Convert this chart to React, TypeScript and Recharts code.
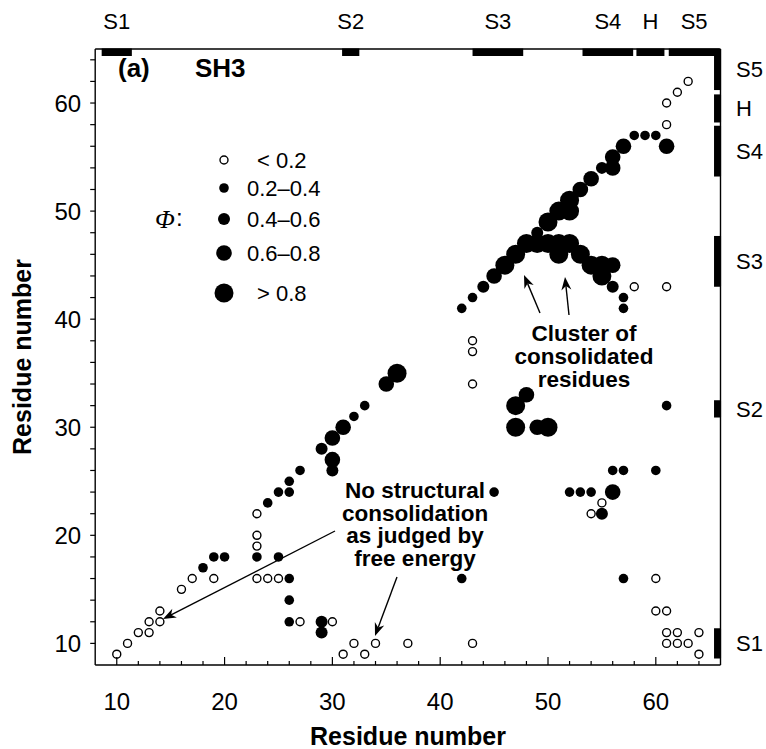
import React from 'react';
import { ScatterChart, Scatter, XAxis, YAxis, ReferenceLine, ReferenceArea, Customized } from 'recharts';

type P = { x: number; y: number };
const pts = (a: number[][]): P[] => a.map(([x, y]) => ({ x, y }));

// Phi-value classes (residue i, residue j)
const phiBelow02 = pts([
  [10, 9], [11, 10], [12, 11], [13, 11], [13, 12], [14, 12], [14, 13], [16, 15], [17, 16], [19, 16],
  [23, 22], [23, 20], [23, 19], [23, 16], [24, 16], [25, 16], [27, 12], [30, 12], [31, 9], [32, 10],
  [33, 9], [34, 10], [37, 10], [43, 10], [43, 34], [43, 37], [43, 38], [54, 22], [55, 23], [58, 43],
  [61, 43], [60, 16], [60, 13], [61, 13], [61, 11], [62, 11], [64, 11], [61, 10], [62, 10], [63, 10],
  [64, 9], [61, 58], [61, 60], [62, 61], [63, 62],
]);
const phi02to04 = pts([
  [18, 17], [19, 18], [20, 18], [23, 18], [25, 18], [26, 16], [26, 14], [26, 12], [24, 23], [25, 24],
  [26, 25], [26, 24], [27, 26], [32, 31], [33, 32], [42, 16], [45, 24], [42, 41], [43, 42], [52, 24],
  [53, 24], [54, 24], [56, 26], [57, 26], [60, 26], [57, 16], [61, 32], [57, 42], [57, 41], [58, 57],
  [59, 57], [60, 57],
]);
const phi04to06 = pts([
  [29, 28], [29, 11], [29, 12], [30, 26], [44, 43], [55, 54], [55, 22], [49, 48], [56, 43],
]);
const phi06to08 = pts([
  [30, 29], [31, 30], [30, 27], [35, 34], [48, 33], [49, 30], [56, 24], [61, 56], [57, 56], [56, 55],
  [56, 54], [54, 53], [53, 52], [45, 44], [56, 45],
]);
const phiAbove08 = pts([
  [36, 35], [47, 32], [47, 30], [50, 30], [46, 45], [47, 46], [48, 47], [49, 47], [50, 47], [51, 47],
  [52, 47], [51, 46], [53, 46], [54, 45], [55, 45], [55, 44], [50, 49], [51, 50], [52, 50], [52, 51],
]);

// Secondary structure elements (residue ranges)
const ssLabels = ['S1', 'S2', 'S3', 'S4', 'H', 'S5'];
const ssStart = [8.6, 30.9, 43.0, 53.2, 58.2, 61.2];
const ssEnd = [11.4, 32.5, 47.7, 57.9, 60.8, 65.9];

const xTicks = [10, 12, 14, 16, 18, 20, 22, 24, 26, 28, 30, 32, 34, 36, 38, 40, 42, 44, 46, 48, 50, 52, 54, 56, 58, 60, 62, 64];
const yTicks = [10, 12, 14, 16, 18, 20, 22, 24, 26, 28, 30, 32, 34, 36, 38, 40, 42, 44, 46, 48, 50, 52, 54, 56, 58, 60, 62, 64];

const FONT = '"Liberation Sans", Arial, Helvetica, sans-serif';
const R = [4, 4.8, 6, 7.8, 9.5];

const makeShape = (r: number, open: boolean) => (props: any) => (
  <circle cx={props.cx} cy={props.cy} r={r} fill={open ? '#fff' : '#000'} stroke="#000" strokeWidth={open ? 1.4 : 0} />
);

const XTick = (props: any) => {
  const { x, y, payload } = props;
  const v = payload.value;
  const major = v % 10 === 0;
  return (
    <g>
      <line x1={x} x2={x} y1={y} y2={y - (major ? 8 : 4)} stroke="#000" strokeWidth={1.2} />
      {major && (
        <text x={x} y={y + 36} textAnchor="middle" dominantBaseline="central" fontSize={24} fontFamily={FONT} fill="#000">
          {v}
        </text>
      )}
    </g>
  );
};

const YTick = (props: any) => {
  const { x, y, payload } = props;
  const v = payload.value;
  const major = v % 10 === 0;
  return (
    <g>
      <line x1={x} x2={x - 5} y1={y} y2={y} stroke="#000" strokeWidth={1.2} />
      {major && (
        <text x={x - 14} y={y} textAnchor="end" dominantBaseline="central" fontSize={24} fontFamily={FONT} fill="#000">
          {v}
        </text>
      )}
    </g>
  );
};

const Arrow = ({ x1, y1, x2, y2 }: { x1: number; y1: number; x2: number; y2: number }) => {
  const dx = x2 - x1;
  const dy = y2 - y1;
  const len = Math.sqrt(dx * dx + dy * dy);
  const ux = dx / len;
  const uy = dy / len;
  const hl = 13;
  const hw = 5;
  const bx = x2 - ux * hl;
  const by = y2 - uy * hl;
  const nx = x2 - ux * hl * 0.7;
  const ny = y2 - uy * hl * 0.7;
  return (
    <g>
      <line x1={x1} y1={y1} x2={nx} y2={ny} stroke="#000" strokeWidth={1.4} />
      <polygon
        points={`${x2},${y2} ${bx - uy * hw},${by + ux * hw} ${nx},${ny} ${bx + uy * hw},${by - ux * hw}`}
        fill="#000"
      />
    </g>
  );
};

const Annotations = () => {
  const bold = { fontFamily: FONT, fontWeight: 700, fill: '#000' } as any;
  const reg = { fontFamily: FONT, fill: '#000' } as any;
  const legendY = [160, 188, 219, 253, 293];
  const legendText = ['< 0.2', '0.2\u20130.4', '0.4\u20130.6', '0.6\u20130.8', '> 0.8'];
  const legendX = [257, 247, 247, 247, 257];
  const noteLines = ['No structural', 'consolidation', 'as judged by', 'free energy'];
  const clusterLines = ['Cluster of', 'consolidated', 'residues'];
  return (
    <g>
      <text x={118} y={68} fontSize={26} dominantBaseline="central" {...bold}>(a)</text>
      <text x={195} y={68} fontSize={26} dominantBaseline="central" {...bold}>SH3</text>
      <text x={155} y={219} fontSize={26} dominantBaseline="central" fontFamily='"Liberation Serif", serif' fontStyle="italic" fill="#000">
        {'\u03A6'}
      </text>
      <text x={176} y={217} fontSize={24} dominantBaseline="central" {...reg}>:</text>
      {legendY.map((ly, i) => (
        <g key={i}>
          <circle cx={224} cy={ly} r={R[i]} fill={i === 0 ? '#fff' : '#000'} stroke="#000" strokeWidth={i === 0 ? 1.4 : 0} />
          <text x={legendX[i]} y={ly} fontSize={22} dominantBaseline="central" {...reg}>{legendText[i]}</text>
        </g>
      ))}
      <text x={415} y={498} textAnchor="middle" fontSize={22.5} {...bold}>
        {noteLines.map((l, i) => (
          <tspan key={i} x={415} dy={i === 0 ? 0 : 22.7}>{l}</tspan>
        ))}
      </text>
      <text x={584} y={341} textAnchor="middle" fontSize={22.5} {...bold}>
        {clusterLines.map((l, i) => (
          <tspan key={i} x={584} dy={i === 0 ? 0 : 22.8}>{l}</tspan>
        ))}
      </text>
      <Arrow x1={335} y1={531} x2={163} y2={619} />
      <Arrow x1={397} y1={577} x2={375} y2={636} />
      <Arrow x1={540} y1={313} x2={524} y2={275} />
      <Arrow x1={569} y1={315} x2={565} y2={277} />
      <text x={408} y={736} textAnchor="middle" dominantBaseline="central" fontSize={25} {...bold}>Residue number</text>
      <text
        x={22}
        y={357}
        textAnchor="middle"
        dominantBaseline="central"
        fontSize={25}
        transform="rotate(-90 22 357)"
        {...bold}
      >
        Residue number
      </text>
    </g>
  );
};

export default function App() {
  return (
    <div style={{ position: 'absolute', left: 0, top: 0, background: '#fff' }}>
      <ScatterChart width={766} height={749} margin={{ top: 49, right: 45.5, left: 0, bottom: 0 }}>
        <XAxis
          type="number"
          dataKey="x"
          domain={[8, 66]}
          ticks={xTicks}
          interval={0}
          allowDataOverflow
          height={84}
          tickSize={0}
          tickMargin={0}
          tickLine={false}
          axisLine={{ stroke: '#000', strokeWidth: 1.4 }}
          tick={<XTick />}
        />
        <YAxis
          type="number"
          dataKey="y"
          domain={[8, 65]}
          ticks={yTicks}
          interval={0}
          allowDataOverflow
          width={95.2}
          tickSize={0}
          tickMargin={0}
          tickLine={false}
          axisLine={{ stroke: '#000', strokeWidth: 1.4 }}
          tick={<YTick />}
        />
        <ReferenceLine y={65} stroke="#000" strokeWidth={1.4} />
        <ReferenceLine x={66} stroke="#000" strokeWidth={1.4} />
        {ssLabels.map((lab, i) => (
          <ReferenceArea
            key={'t' + lab}
            x1={ssStart[i]}
            x2={ssEnd[i]}
            y1={64.35}
            y2={65.05}
            fill="#000"
            fillOpacity={1}
            stroke="none"
            ifOverflow="visible"
            label={{ value: lab, position: 'top', offset: 19, fill: '#000', fontSize: 22, fontFamily: FONT }}
          />
        ))}
        {ssLabels.map((lab, i) => (
          <ReferenceArea
            key={'r' + lab}
            x1={65.4}
            x2={66.05}
            y1={ssStart[i]}
            y2={Math.min(ssEnd[i], 65)}
            fill="#000"
            fillOpacity={1}
            stroke="none"
            ifOverflow="visible"
            label={{ value: lab, position: 'right', offset: 15, fill: '#000', fontSize: 22, fontFamily: FONT }}
          />
        ))}
        <Scatter data={phiAbove08} isAnimationActive={false} shape={makeShape(R[4], false)} />
        <Scatter data={phi06to08} isAnimationActive={false} shape={makeShape(R[3], false)} />
        <Scatter data={phi04to06} isAnimationActive={false} shape={makeShape(R[2], false)} />
        <Scatter data={phi02to04} isAnimationActive={false} shape={makeShape(R[1], false)} />
        <Scatter data={phiBelow02} isAnimationActive={false} shape={makeShape(R[0], true)} />
        <Customized component={Annotations} />
      </ScatterChart>
    </div>
  );
}
